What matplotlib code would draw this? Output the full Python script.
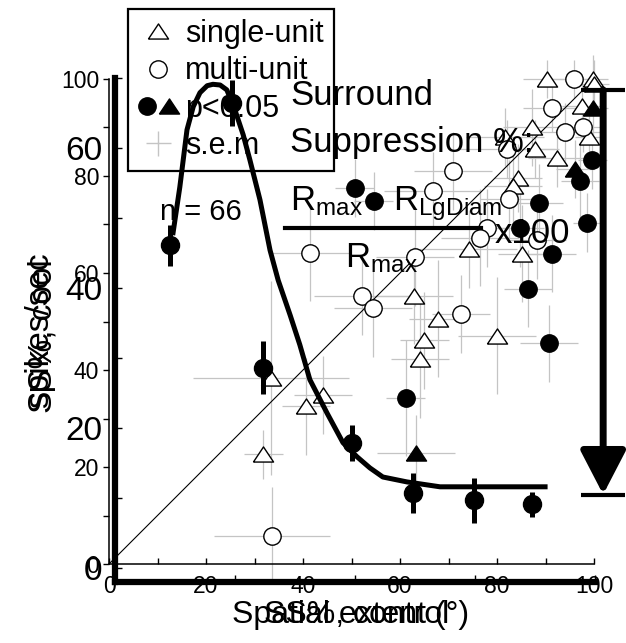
import matplotlib
matplotlib.use("Agg")
import matplotlib.pyplot as plt
from matplotlib.lines import Line2D
from matplotlib.legend_handler import HandlerTuple
from matplotlib.ticker import MultipleLocator, NullFormatter

plt.rcParams['font.family'] = ['Liberation Sans', 'DejaVu Sans']
plt.rcParams['mathtext.fontset'] = 'custom'
plt.rcParams['mathtext.rm'] = 'Liberation Sans'
plt.rcParams['mathtext.default'] = 'regular'

# ---------------- scatter: surround suppression, control vs cool ----------------
# single-unit, not significant
su_x = [33.4, 31.8, 40.6, 44.1, 62.9, 67.8, 65.0, 64.1, 80.0, 90.3, 99.8, 100.0,
        97.5, 87.2, 81.6, 87.8, 92.4, 84.3, 83.3, 74.2, 85.2, 99.0]
su_y = [38.3, 22.6, 32.5, 34.8, 55.3, 50.6, 46.1, 42.2, 47.1, 100.0, 100.0, 99.0,
        94.4, 90.0, 88.0, 85.6, 83.7, 79.6, 78.0, 65.0, 64.0, 88.0]
su_xerr = [16, 4, 5, 6, 8, 6, 5, 6, 8, 5, 3, 3, 4, 6, 8, 5, 6, 5, 6, 10, 5, 3]
su_yerr = [20, 5, 10, 8, 10, 12, 10, 12, 12, 4, 5, 5, 6, 8, 6, 6, 6, 7, 8, 8, 10, 6]

# multi-unit, not significant
mu_x = [33.6, 41.4, 52.2, 54.4, 72.6, 95.9, 91.3, 94.0, 97.7, 82.0, 70.9, 66.8,
        82.5, 77.9, 76.5, 88.2, 63.1]
mu_y = [5.8, 64.2, 55.3, 52.7, 51.6, 100.0, 94.0, 89.0, 90.0, 85.6, 81.0, 77.0,
        75.3, 69.3, 67.3, 66.8, 63.2]
mu_xerr = [12, 8, 10, 8, 6, 5, 6, 8, 4, 10, 8, 10, 6, 8, 8, 6, 8]
mu_yerr = [10, 10, 8, 10, 8, 4, 5, 6, 5, 6, 8, 8, 8, 8, 10, 8, 10]

# significant (p<0.05): multi-unit filled circles, single-unit filled triangles
sig_mu_x = [86.4, 90.7, 61.2, 99.6, 97.1, 50.7, 54.6, 88.7, 84.7, 98.6, 91.3]
sig_mu_y = [56.8, 45.5, 34.2, 83.3, 79.0, 77.6, 74.9, 74.5, 69.3, 70.4, 64.0]
sig_mu_xerr = [5, 6, 4, 3, 4, 4, 4, 5, 5, 3, 5]
sig_mu_yerr = [8, 8, 12, 6, 8, 6, 6, 8, 8, 6, 8]

sig_su_x = [63.3, 99.8, 96.1]
sig_su_y = [22.8, 94.0, 81.5]
sig_su_xerr = [8, 3, 4]
sig_su_yerr = [8, 6, 6]

ss_ticks = [0, 20, 40, 60, 80, 100]

# ---------------- example cell: response vs spatial extent ----------------
diam = [11.5, 24.4, 30.8, 49.4, 62.1, 74.8, 86.9]
rate = [46.1, 66.4, 28.6, 17.9, 10.7, 9.7, 9.1]
rate_sem = [2.9, 3.3, 3.8, 2.6, 2.9, 3.2, 1.8]

fit_x = [12.1, 13.5, 15.0, 16.3, 17.7, 19.2, 20.4, 21.9, 23.3, 25.0, 26.7, 28.1,
         30.2, 32.3, 34.0, 36.5, 38.5, 40.6, 44.2, 47.5, 50.4, 53.1, 55.8, 60.8,
         67.7, 89.6]
fit_y = [47.9, 54.4, 62.6, 65.9, 67.9, 68.9, 69.1, 69.0, 68.3, 65.4, 61.9, 58.3,
         52.6, 45.4, 41.1, 36.1, 31.9, 26.9, 22.1, 17.9, 15.9, 14.3, 13.0, 12.3,
         11.6, 11.6]

r_max = 68.3      # peak response
r_lgdiam = 10.5   # response to the largest stimulus
rate_ticks = [0, 20, 40, 60]

W, H = 626, 643
fig = plt.figure(figsize=(W / 100, H / 100), dpi=100)


def fx(px):
    return px / W


def fy(py):
    return 1 - py / H


gray = '#c4c4c4'
tri = [(-1, -0.75), (1, -0.75), (0, 0.75), (-1, -0.75)]

# scatter axes (thin frame)
ax1 = fig.add_axes([fx(109), fy(564), fx(594) - fx(109), fy(79) - fy(564)])
ax1.set_xlim(0, 100)
ax1.set_ylim(0, 100)
for s in ('top', 'right'):
    ax1.spines[s].set_visible(False)
for s in ('left', 'bottom'):
    ax1.spines[s].set_linewidth(1.1)
ax1.set_xticks(ss_ticks)
ax1.set_yticks(ss_ticks)
ax1.xaxis.set_minor_locator(MultipleLocator(10))
ax1.yaxis.set_minor_locator(MultipleLocator(10))
ax1.tick_params(axis='x', which='both', direction='in', length=4, width=1,
                labelsize=16.5, pad=8)
ax1.tick_params(axis='y', which='both', direction='out', length=4, width=1,
                labelsize=16.5, pad=3)

ax1.plot([0, 100], [0, 100], color='black', lw=0.8, zorder=2)

for xs, ys, xe, ye in ((su_x, su_y, su_xerr, su_yerr),
                       (mu_x, mu_y, mu_xerr, mu_yerr),
                       (sig_mu_x, sig_mu_y, sig_mu_xerr, sig_mu_yerr),
                       (sig_su_x, sig_su_y, sig_su_xerr, sig_su_yerr)):
    ax1.errorbar(xs, ys, xerr=xe, yerr=ye, fmt='none', ecolor=gray,
                 elinewidth=0.9, capsize=0, zorder=1, clip_on=False)

ax1.plot(su_x, su_y, ls='none', marker=tri, ms=14.5, mfc='white', mec='black',
         mew=1.0, zorder=3, clip_on=False)
ax1.plot(mu_x, mu_y, ls='none', marker='o', ms=12.5, mfc='white', mec='black',
         mew=1.0, zorder=3, clip_on=False)
ax1.plot(sig_mu_x, sig_mu_y, ls='none', marker='o', ms=12.5, mfc='black',
         mec='black', zorder=4, clip_on=False)
ax1.plot(sig_su_x, sig_su_y, ls='none', marker=tri, ms=14.5, mfc='black',
         mec='black', zorder=4, clip_on=False)

ax1.set_xlabel('SS%, control', fontsize=23)
ax1.xaxis.set_label_coords(0.51, -0.075)
ax1.set_ylabel('SS%, cool', fontsize=24)
ax1.yaxis.set_label_coords(-0.105, 0.47)

h_su = Line2D([], [], ls='none', marker=tri, ms=14.5, mfc='white', mec='black', mew=1.0)
h_mu = Line2D([], [], ls='none', marker='o', ms=12.5, mfc='white', mec='black', mew=1.0)
h_c = Line2D([], [], ls='none', marker='o', ms=12.5, mfc='black', mec='black')
h_t = Line2D([], [], ls='none', marker=tri, ms=14.5, mfc='black', mec='black')
h_sem = Line2D([], [], ls='none', marker='+', ms=18, mew=1.0, color=gray)
leg = ax1.legend([h_su, h_mu, (h_c, h_t), h_sem],
                 ['single-unit', 'multi-unit', 'p<0.05', 's.e.m'],
                 handler_map={tuple: HandlerTuple(ndivide=None, pad=0.1)},
                 loc='upper left', bbox_to_anchor=(fx(128), fy(9)),
                 bbox_transform=fig.transFigure, fontsize=22, frameon=True,
                 fancybox=False, framealpha=1, edgecolor='black',
                 borderpad=0.33, labelspacing=0.24, handlelength=1.3,
                 handletextpad=0.25, borderaxespad=0)
leg.get_frame().set_linewidth(1.6)
leg.set_zorder(6)

# response axes (thick frame), drawn over the scatter
ax2 = fig.add_axes([fx(115), fy(582), fx(595) - fx(115), fy(78) - fy(582)])
ax2.patch.set_visible(False)
ax2.set_xlim(0, 100)
ax2.set_ylim(-2, 70)
for s in ('top', 'right'):
    ax2.spines[s].set_visible(False)
for s in ('left', 'bottom'):
    ax2.spines[s].set_linewidth(4.5)
ax2.set_xticks([0, 25, 50, 75, 100])
ax2.xaxis.set_major_formatter(NullFormatter())
ax2.set_yticks(rate_ticks)
ax2.yaxis.set_minor_locator(MultipleLocator(10))
ax2.tick_params(axis='x', direction='in', length=5, width=1)
ax2.tick_params(axis='y', which='both', direction='in', length=5, width=1,
                labelsize=24, pad=9)

ax2.plot(fit_x, fit_y, color='black', lw=3.6, solid_joinstyle='round', zorder=5)
ax2.errorbar(diam, rate, yerr=rate_sem, fmt='o', color='black', ms=13,
             elinewidth=3.6, capsize=0, zorder=6)

ax2.set_xlabel('Spatial extent (°)', fontsize=23)
ax2.xaxis.set_label_coords(0.49, -0.035)
ax2.set_ylabel('spikes/sec', fontsize=24)
ax2.yaxis.set_label_coords(-0.125, 0.5)

# suppression arrow from the peak down to the large-diameter response
arrow_x = 101.7
ax2.annotate('', xy=(arrow_x, r_lgdiam), xytext=(arrow_x, r_max),
             xycoords='data', annotation_clip=False,
             arrowprops=dict(arrowstyle='-|>,head_length=27,head_width=14',
                             mutation_scale=1, lw=5, color='black',
                             shrinkA=0, shrinkB=0))
ax2.hlines([r_max, r_lgdiam], arrow_x - 4.6, arrow_x + 4.6, colors='black',
           lw=3, clip_on=False, zorder=6)

# annotation text
fig.text(fx(160), fy(220), 'n = 66', fontsize=21, va='baseline', zorder=10)
fig.text(fx(290), fy(105), 'Surround', fontsize=25, va='baseline', zorder=10)
fig.text(fx(290), fy(152), 'Suppression %:', fontsize=25, va='baseline', zorder=10)
fig.text(fx(290), fy(210), r'R$_{max}$', fontsize=25, va='baseline', zorder=10)
fig.text(fx(393), fy(210), r'R$_{LgDiam}$', fontsize=25, va='baseline', zorder=10)
fig.text(fx(345), fy(267), r'R$_{max}$', fontsize=25, va='baseline', zorder=10)
fig.text(fx(495), fy(243), 'x100', fontsize=25, va='baseline', zorder=10)
fig.add_artist(Line2D([fx(285), fx(481)], [fy(228), fy(228)], color='black',
                     lw=3, transform=fig.transFigure, zorder=10))

fig.savefig('out.png', dpi=100)
